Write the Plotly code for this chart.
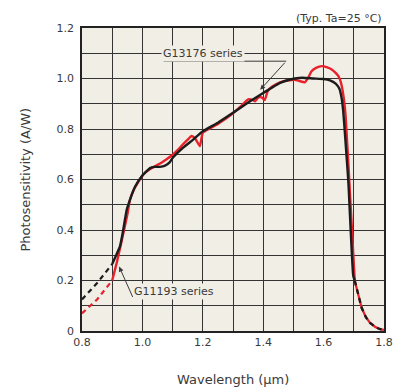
import plotly.graph_objects as go

# G11193 series (red) - solid part
red_wl = [0.900, 0.915, 0.930, 0.942, 0.950, 0.959, 0.970, 0.986, 1.000, 1.010, 1.030, 1.060,
          1.080, 1.100, 1.120, 1.135, 1.150, 1.163, 1.175, 1.190, 1.200, 1.220, 1.250, 1.300,
          1.330, 1.350, 1.365, 1.373, 1.384, 1.395, 1.405, 1.415, 1.430, 1.456, 1.480, 1.505,
          1.520, 1.538, 1.550, 1.560, 1.575, 1.594, 1.610, 1.627, 1.640, 1.649, 1.656, 1.661,
          1.667, 1.673, 1.688, 1.703]
red_ps = [0.200, 0.270, 0.350, 0.415, 0.460, 0.520, 0.555, 0.590, 0.615, 0.628, 0.645, 0.664,
          0.680, 0.698, 0.720, 0.740, 0.758, 0.772, 0.762, 0.732, 0.785, 0.800, 0.820, 0.862,
          0.895, 0.917, 0.915, 0.910, 0.925, 0.925, 0.915, 0.950, 0.968, 0.985, 0.992, 0.995,
          0.990, 0.985, 1.005, 1.029, 1.042, 1.049, 1.045, 1.036, 1.022, 1.009, 0.990, 0.965,
          0.920, 0.850, 0.530, 0.200]

# G13176 series (black) - solid part
blk_wl = [0.900, 0.913, 0.926, 0.935, 0.948, 0.959, 0.975, 0.998, 1.014, 1.025, 1.040, 1.058,
          1.075, 1.090, 1.100, 1.135, 1.168, 1.200, 1.250, 1.300, 1.350, 1.400, 1.456, 1.489,
          1.505, 1.530, 1.566, 1.600, 1.621, 1.640, 1.652, 1.660, 1.665, 1.672, 1.682, 1.698,
          1.703]
blk_ps = [0.265, 0.300, 0.336, 0.390, 0.480, 0.520, 0.570, 0.613, 0.633, 0.645, 0.650, 0.650,
          0.655, 0.668, 0.685, 0.726, 0.758, 0.791, 0.825, 0.864, 0.905, 0.943, 0.983, 0.996,
          1.000, 1.003, 1.000, 0.998, 0.993, 0.980, 0.960, 0.920, 0.870, 0.760, 0.590, 0.220,
          0.200]

# dashed extensions
blk_left_wl = [0.80, 0.85, 0.90]
blk_left_ps = [0.125, 0.190, 0.265]
red_left_wl = [0.80, 0.85, 0.90]
red_left_ps = [0.070, 0.125, 0.200]
tail_wl = [1.703, 1.715, 1.726, 1.740, 1.754, 1.770, 1.785, 1.800]
tail_ps = [0.200, 0.140, 0.092, 0.055, 0.032, 0.017, 0.008, 0.004]

x_ticks = [0.8, 1.0, 1.2, 1.4, 1.6, 1.8]
x_tick_text = ["0.8", "1.0", "1.2", "1.4", "1.6", "1.8"]
y_ticks = [0, 0.2, 0.4, 0.6, 0.8, 1.0, 1.2]
y_tick_text = ["0", "0.2", "0.4", "0.6", "0.8", "1.0", "1.2"]

RED = "#E8212B"
BLK = "#1c1c1c"
BG = "#F1EEE6"
GRID = "#333333"
TXT = "#3a3a3a"
FONT = "DejaVu Sans"

fig = go.Figure()
fig.add_trace(go.Scatter(x=red_left_wl, y=red_left_ps, mode="lines",
                         line=dict(color=RED, width=2.2, dash="5px,4px")))
fig.add_trace(go.Scatter(x=blk_left_wl, y=blk_left_ps, mode="lines",
                         line=dict(color=BLK, width=2.2, dash="5px,4px")))
fig.add_trace(go.Scatter(x=tail_wl, y=tail_ps, mode="lines",
                         line=dict(color=RED, width=2.2)))
fig.add_trace(go.Scatter(x=tail_wl, y=tail_ps, mode="lines",
                         line=dict(color=BLK, width=2.4, dash="5px,4px")))
fig.add_trace(go.Scatter(x=red_wl, y=red_ps, mode="lines",
                         line=dict(color=RED, width=2.4, shape="spline", smoothing=0.4)))
fig.add_trace(go.Scatter(x=blk_wl, y=blk_ps, mode="lines",
                         line=dict(color=BLK, width=2.4, shape="spline", smoothing=0.4)))

# labels
fig.add_annotation(x=1.2, y=1.1, xref="x", yref="y", text="G13176 series", showarrow=False,
                   font=dict(family=FONT, size=11, color=TXT), bgcolor=BG, borderpad=1)
fig.add_shape(type="line", xref="x", yref="y", x0=1.07, x1=1.476, y0=1.0685, y1=1.0685,
              line=dict(color=TXT, width=1))
fig.add_annotation(x=1.39, y=0.955, ax=1.476, ay=1.0685, axref="x", ayref="y", xref="x", yref="y",
                   text="", showarrow=True, arrowhead=2, arrowsize=1, arrowwidth=1,
                   arrowcolor=TXT, standoff=0)
fig.add_annotation(x=1.105, y=0.157, xref="x", yref="y", text="G11193 series", showarrow=False,
                   font=dict(family=FONT, size=11, color=TXT), bgcolor=BG, borderpad=1)
fig.add_shape(type="line", xref="x", yref="y", x0=0.970, x1=1.24, y0=0.129, y1=0.129,
              line=dict(color=TXT, width=1))
fig.add_annotation(x=0.923, y=0.255, ax=0.970, ay=0.129, axref="x", ayref="y", xref="x", yref="y",
                   text="", showarrow=True, arrowhead=2, arrowsize=1, arrowwidth=1,
                   arrowcolor=TXT, standoff=0)

# title and axis titles
fig.add_annotation(x=1, y=1, xref="paper", yref="paper", xanchor="right", yanchor="middle",
                   yshift=10, text="(Typ. Ta=25 °C)", showarrow=False,
                   font=dict(family=FONT, size=11, color=TXT))
fig.add_annotation(x=0.5, y=0, xref="paper", yref="paper", xanchor="center", yanchor="middle",
                   yshift=-48, text="Wavelength (μm)", showarrow=False,
                   font=dict(family=FONT, size=13, color=TXT))
fig.add_annotation(x=0, y=0.5, xref="paper", yref="paper", xanchor="center", yanchor="middle",
                   xshift=-57, text="Photosensitivity (A/W)", textangle=-90, showarrow=False,
                   font=dict(family=FONT, size=13, color=TXT))

fig.update_layout(
    width=393, height=387, showlegend=False, autosize=False,
    margin=dict(l=82, r=9, t=28, b=56, autoexpand=False),
    paper_bgcolor="white", plot_bgcolor=BG,
    font=dict(family=FONT, size=11, color=TXT),
)
fig.update_xaxes(range=[0.8, 1.8], tickvals=x_ticks, ticktext=x_tick_text, automargin=False,
                 showgrid=True, gridcolor=GRID, gridwidth=1, zeroline=False,
                 showline=True, linecolor="#222", linewidth=1.5, mirror=True, ticks="",
                 minor=dict(dtick=0.1, tick0=0.8, showgrid=True, gridcolor=GRID, gridwidth=1),
                 tickfont=dict(family=FONT, size=11, color=TXT))
fig.update_yaxes(range=[0, 1.2], tickvals=y_ticks, ticktext=y_tick_text, automargin=False,
                 showgrid=True, gridcolor=GRID, gridwidth=1, zeroline=False,
                 showline=True, linecolor="#222", linewidth=1.5, mirror=True, ticks="",
                 minor=dict(dtick=0.1, tick0=0, showgrid=True, gridcolor=GRID, gridwidth=1),
                 ticklabelstandoff=4,
                 tickfont=dict(family=FONT, size=11, color=TXT))

fig.write_html("out.html")
